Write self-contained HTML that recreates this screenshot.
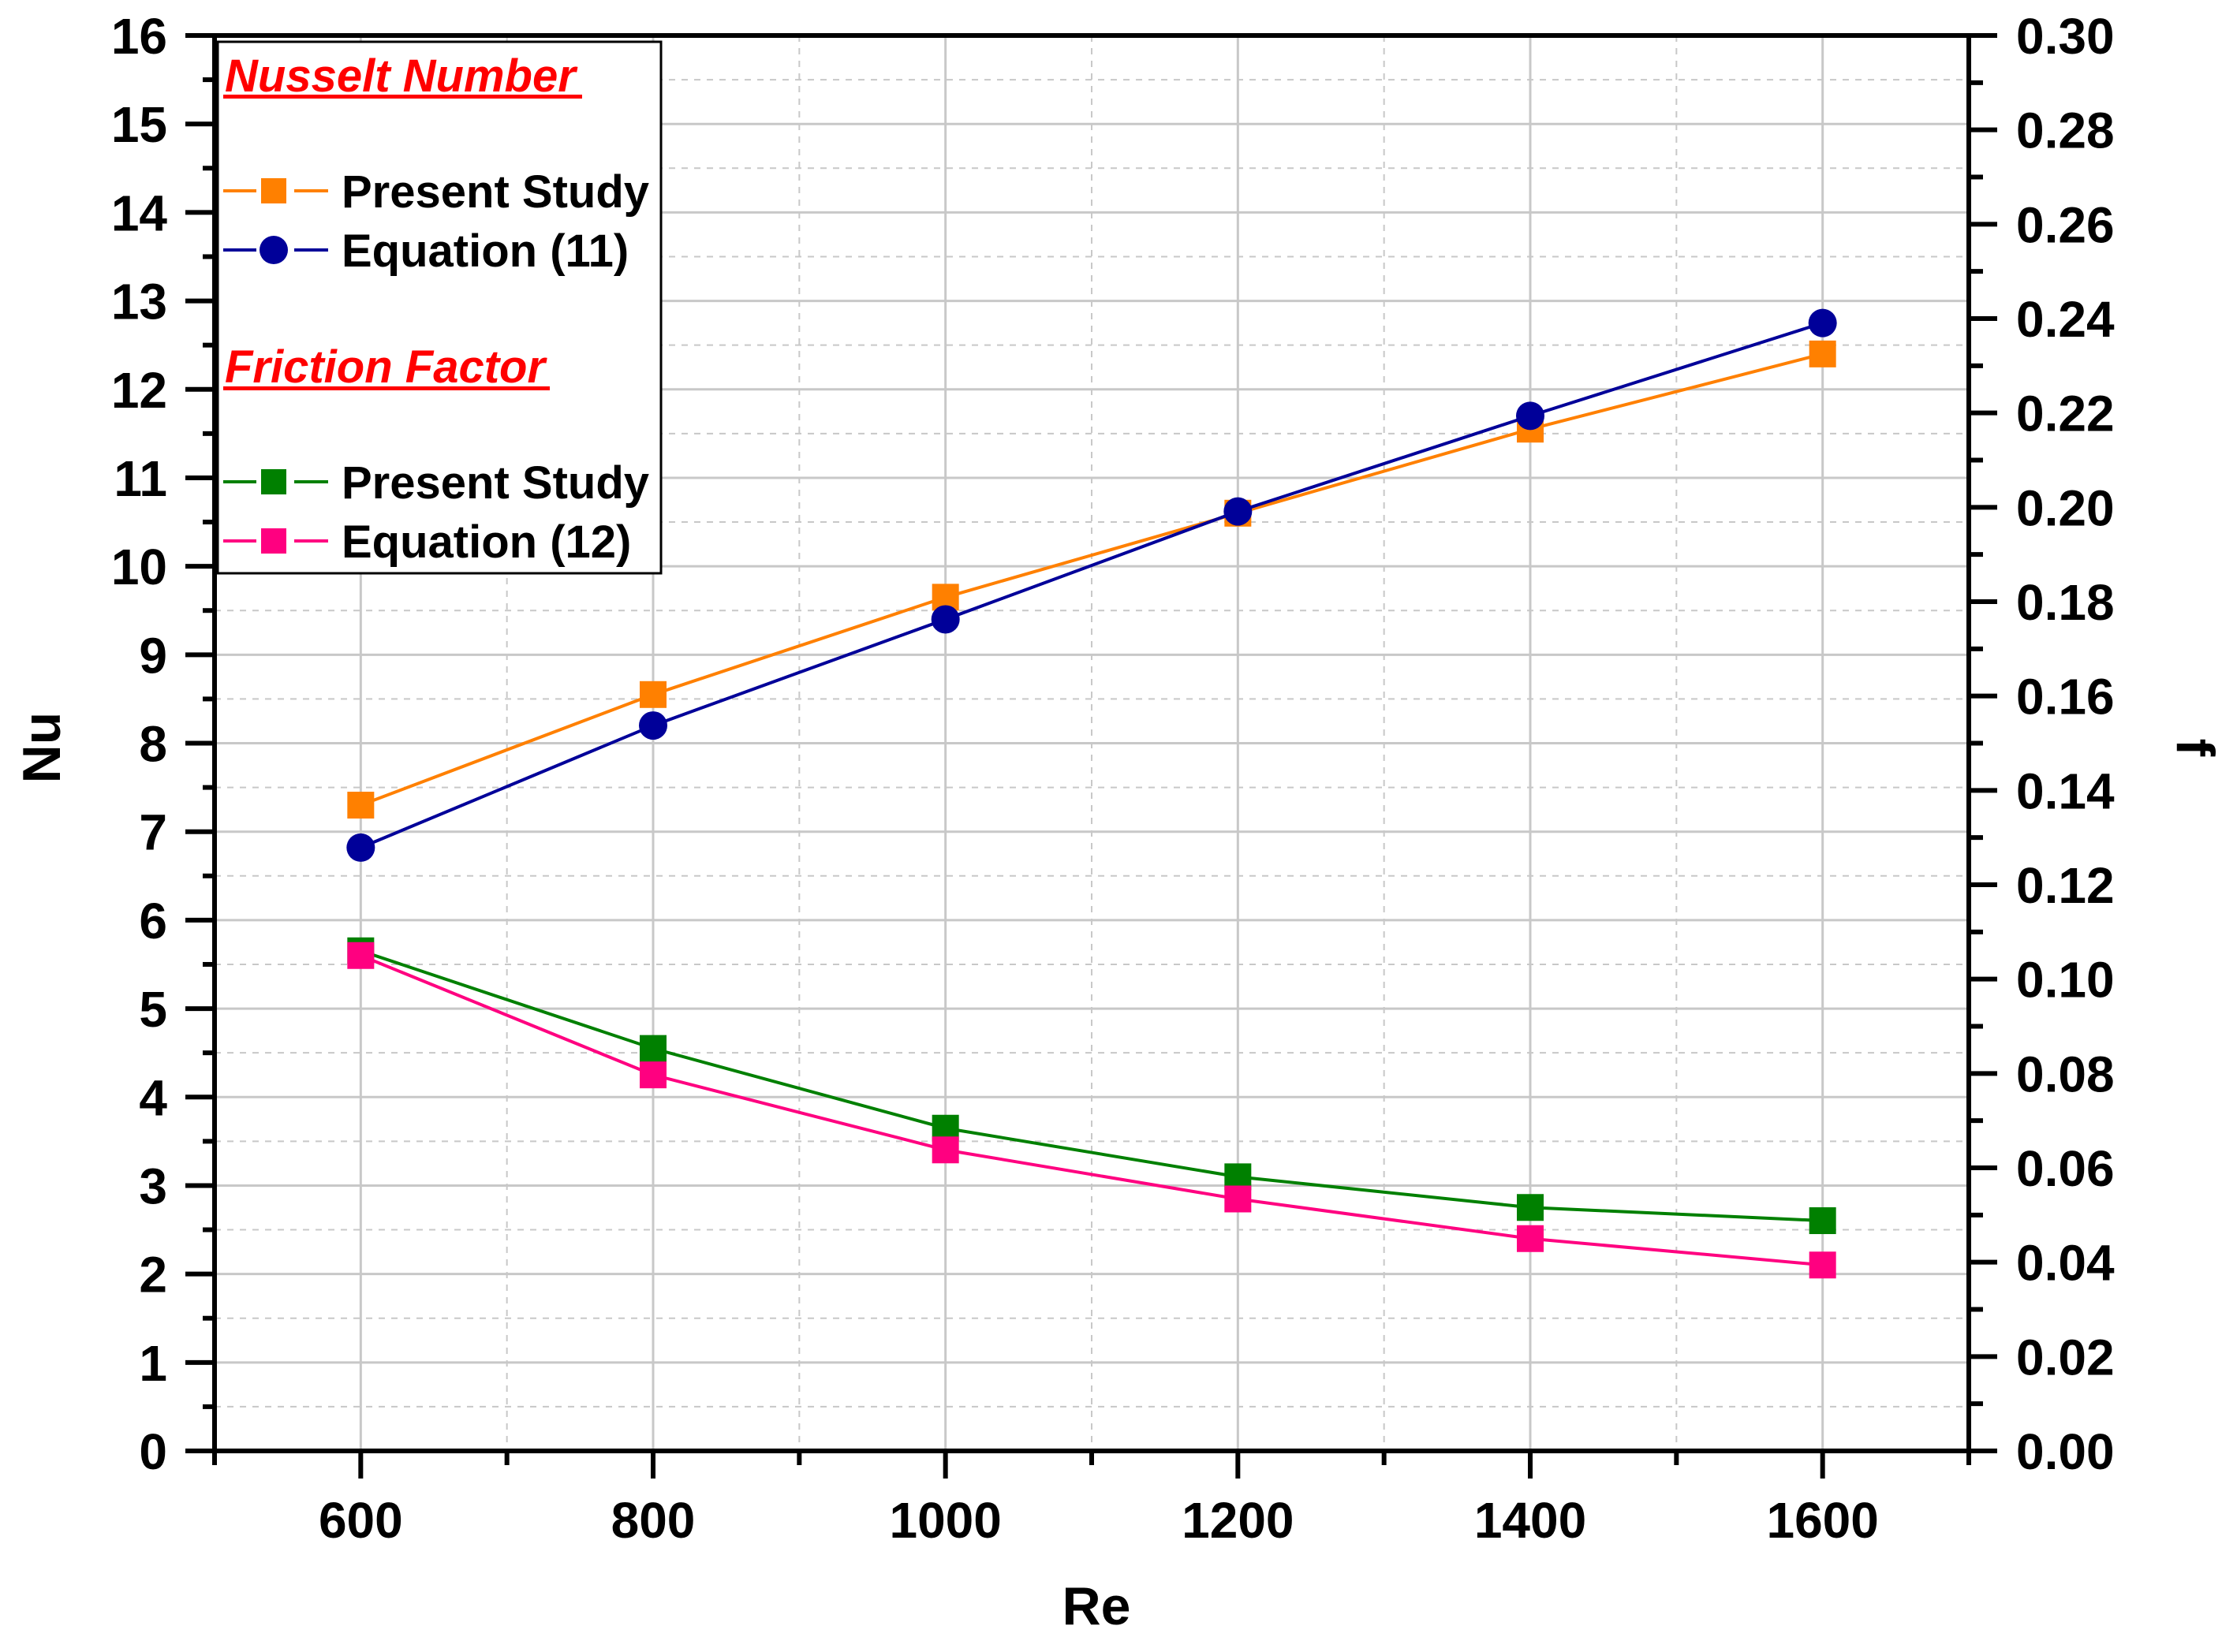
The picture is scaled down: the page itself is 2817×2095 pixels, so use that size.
<!DOCTYPE html>
<html><head><meta charset="utf-8"><style>
html,body{margin:0;padding:0;background:#fff;}
svg{display:block;font-family:"Liberation Sans",Arial,sans-serif;font-weight:bold;}
</style></head><body>
<svg id="chart" width="2817" height="2095" viewBox="0 0 2817 2095" xmlns="http://www.w3.org/2000/svg">
<g id="grid"></g>
<g id="series"></g>
<g id="axes"></g>
<text x="0" y="0" font-size="68" text-anchor="middle" transform="translate(76,948) rotate(-90)">Nu</text>
<text x="0" y="0" font-size="68" text-anchor="middle" transform="translate(2760,948) rotate(90)">f</text>
<text x="1390" y="2060" font-size="68" text-anchor="middle">Re</text>
<g id="legend">
<rect x="276" y="53" width="562" height="674" fill="#fff" stroke="#000" stroke-width="3"/>
<text x="285" y="116" font-size="58" font-style="italic" fill="#ff0000">Nusselt Number</text>
<rect x="283" y="120" width="455" height="5" fill="#ff0000"/>
<g>
<line x1="283" y1="242" x2="325" y2="242" stroke="#ff8000" stroke-width="4"/><line x1="373" y1="242" x2="416" y2="242" stroke="#ff8000" stroke-width="4"/>
<rect x="331" y="226" width="32" height="32" fill="#ff8000"/>
<text x="433" y="263" font-size="58">Present Study</text></g>
<g>
<line x1="283" y1="317" x2="325" y2="317" stroke="#000099" stroke-width="4"/><line x1="373" y1="317" x2="416" y2="317" stroke="#000099" stroke-width="4"/>
<circle cx="347" cy="317" r="18" fill="#000099"/>
<text x="433" y="338" font-size="58">Equation (11)</text></g>
<text x="285" y="485" font-size="58" font-style="italic" fill="#ff0000">Friction Factor</text>
<rect x="283" y="490" width="414" height="5" fill="#ff0000"/>
<g>
<line x1="283" y1="611" x2="325" y2="611" stroke="#008000" stroke-width="4"/><line x1="373" y1="611" x2="416" y2="611" stroke="#008000" stroke-width="4"/>
<rect x="331" y="595" width="32" height="32" fill="#008000"/>
<text x="433" y="632" font-size="58">Present Study</text></g>
<g>
<line x1="283" y1="686" x2="325" y2="686" stroke="#ff0080" stroke-width="4"/><line x1="373" y1="686" x2="416" y2="686" stroke="#ff0080" stroke-width="4"/>
<rect x="331" y="670" width="32" height="32" fill="#ff0080"/>
<text x="433" y="707" font-size="58">Equation (12)</text></g>
</g>
</svg>
<script>
const re = [600, 800, 1000, 1200, 1400, 1600];
const nuPresent = [7.3, 8.55, 9.65, 10.6, 11.55, 12.4];
const nuEquation = [6.82, 8.2, 9.4, 10.62, 11.7, 12.75];
const fPresent = [0.106, 0.0853, 0.0684, 0.0581, 0.0516, 0.0488];
const fEquation = [0.105, 0.0797, 0.0638, 0.0534, 0.045, 0.0394];
const xTicks = [600, 800, 1000, 1200, 1400, 1600];
const yLeftTicks = [0,1,2,3,4,5,6,7,8,9,10,11,12,13,14,15,16];
const yRightTicks = [0,0.02,0.04,0.06,0.08,0.10,0.12,0.14,0.16,0.18,0.20,0.22,0.24,0.26,0.28,0.30];

const L=272, R=2496, T=45, B=1840;
const X0=500, X1=1700;
const sx = v => L + (v-X0)/(X1-X0)*(R-L);
const syL = v => B - v/16*(B-T);
const syR = v => B - v/0.30*(B-T);
const NS="http://www.w3.org/2000/svg";
function mk(tag, attrs, parent){const e=document.createElementNS(NS,tag);for(const k in attrs)e.setAttribute(k,attrs[k]);parent.appendChild(e);return e;}
const grid=document.getElementById('grid'), axes=document.getElementById('axes'), series=document.getElementById('series');

for(let v=600; v<X1; v+=100){
  const major=(v%200===0);
  const g=mk('line',{x1:sx(v),x2:sx(v),y1:T,y2:B,stroke:'#c8c8c8','stroke-width':major?3:2,'stroke-dasharray':major?'none':'8,8'},grid);
  
  
}
for(let v=0.5; v<16; v+=0.5){
  const major=(v%1===0);
  const g=mk('line',{x1:L,x2:R,y1:syL(v),y2:syL(v),stroke:'#c8c8c8','stroke-width':major?3:2,'stroke-dasharray':major?'none':'8,8'},grid);
  
  
}

const frame=mk('rect',{x:L,y:T,width:R-L,height:B-T,fill:'none',stroke:'#000','stroke-width':6},axes);



for(let v=X0; v<=X1; v+=100){
  const major=(v%200===0);
  const t=mk('line',{x1:sx(v),x2:sx(v),y1:B,y2:B+(major?35:18),stroke:'#000','stroke-width':6},axes);
  
  
}
xTicks.forEach(v=>{
  const t=mk('text',{x:sx(v),y:1950,'font-size':64,'text-anchor':'middle'},axes);
  t.textContent=v;
  
  
});
for(let v=0; v<=16; v+=0.5){
  const major=(v%1===0);
  const t=mk('line',{x1:L-(major?37:15),x2:L,y1:syL(v),y2:syL(v),stroke:'#000','stroke-width':6},axes);
  
  
}
yLeftTicks.forEach(v=>{
  const t=mk('text',{x:212,y:syL(v)+23,'font-size':64,'text-anchor':'end'},axes);
  t.textContent=v;
  
  
});
for(let i=0; i<=30; i++){
  const v=i/100, major=(i%2===0);
  const t=mk('line',{x1:R,x2:R+(major?36:18),y1:syR(v),y2:syR(v),stroke:'#000','stroke-width':6},axes);
  
  
}
yRightTicks.forEach(v=>{
  const t=mk('text',{x:2556,y:syR(v)+23,'font-size':64,'text-anchor':'start'},axes);
  t.textContent=v.toFixed(2);
  
  
});

function drawSeries(vals, sy, color, shape, name){
  const g=mk('g',{},series);
  
  
  const pts=vals.map((v,i)=>sx(re[i])+','+sy(v)).join(' ');
  const pl=mk('polyline',{points:pts,fill:'none',stroke:color,'stroke-width':4},g);
  
  
  vals.forEach((v,i)=>{
    let m;
    if(shape==='circle') m=mk('circle',{cx:sx(re[i]),cy:sy(v),r:18,fill:color},g);
    else m=mk('rect',{x:sx(re[i])-17,y:sy(v)-17,width:34,height:34,fill:color},g);
    
    
  });
}
drawSeries(fPresent, syR, '#008000', 'square', 'f-present-study');
drawSeries(fEquation, syR, '#ff0080', 'square', 'f-equation-12');
drawSeries(nuPresent, syL, '#ff8000', 'square', 'nu-present-study');
drawSeries(nuEquation, syL, '#000099', 'circle', 'nu-equation-11');
</script>
</body></html>
